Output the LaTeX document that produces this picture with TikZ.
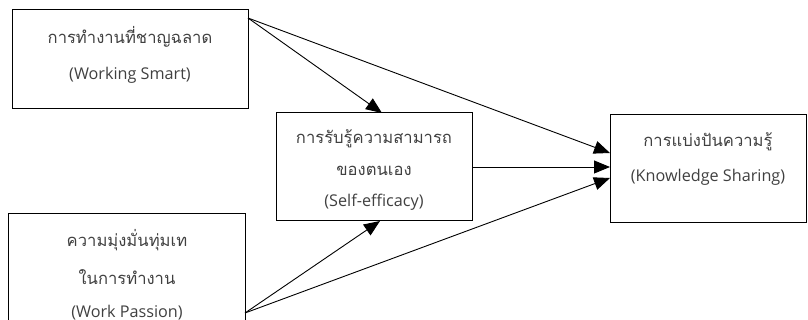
\documentclass[tikz,border=0pt]{standalone}
\usepackage{fontspec}
\setmainfont{Open Sans}
\newfontfamily\thaifont[Script=Thai]{Loma}
\usetikzlibrary{arrows.meta,calc}

\begin{document}
\begin{tikzpicture}[x=1pt,y=-1pt,
  box/.style={draw,line width=1pt,rectangle,inner sep=0pt,outer sep=0pt},
  txt/.style={font=\fontsize{16.2}{18}\selectfont,text=black!75,inner sep=0pt,
    text height=11pt,text depth=3pt,anchor=center},
  ttxt/.style={txt,font=\fontsize{16.6}{19}\thaifont},
  arr/.style={line width=0.9pt,-{Triangle[length=16pt,width=13pt]}}]
\useasboundingbox (0,0) rectangle (808,320);

% boxes (the lower left one runs past the page edge)
\node[box,minimum width=235.5pt,minimum height=99.5pt] (ws) at (130.25,59.25) {};
\node[box,minimum width=237pt,minimum height=110pt] (wp) at (126.5,269) {};
\node[box,minimum width=196pt,minimum height=108pt] (se) at (374,167) {};
\node[box,minimum width=196pt,minimum height=108pt] (ks) at (708,169) {};

% labels
\node[ttxt] (ws1) at (130,40) {การทำงานที่ชาญฉลาด};
\node[txt]  (ws2) at (130,76) {(Working Smart)};
\node[ttxt] (se1) at (374,140) {การรับรู้ความสามารถ};
\node[ttxt] (se2) at (374,172) {ของตนเอง};
\node[txt]  (se3) at (374,203) {(Self-efficacy)};
\node[ttxt] (ks1) at (708,143) {การแบ่งปันความรู้};
\node[txt]  (ks2) at (708,178) {(Knowledge Sharing)};
\node[ttxt] (wp1) at (127,243) {ความมุ่งมั่นทุ่มเท};
\node[ttxt] (wp2) at (127,280) {ในการทำงาน};
\node[txt]  (wp3) at (127,313) {(Work Passion)};

% arrow origins
\coordinate (s1) at ($(ws.north east)+(0,8.5)$);
\coordinate (s2) at ($(wp.south east)+(0,-11)$);

% paths
\draw[arr] (s1) -- ($(se.north)+(8,0)$);
\draw[arr] (s1) -- ($(ks.west)+(0,-16)$);
\draw[arr] (se.east) -- (se.east -| ks.west);
\draw[arr] (s2) -- ($(ks.west)+(0,9)$);
\draw[arr] (s2) -- ($(se.south)+(6,0)$);
\end{tikzpicture}
\end{document}
